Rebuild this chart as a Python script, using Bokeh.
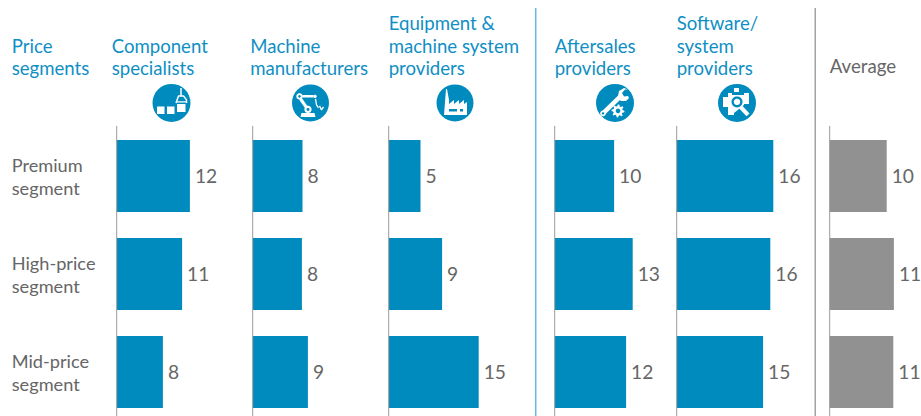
from bokeh.plotting import figure
from bokeh.models import Range1d
from bokeh.core.properties import value
from bokeh.embed import file_html
from bokeh.resources import INLINE
import math

segments = ["Premium\nsegment", "High-price\nsegment", "Mid-price\nsegment"]
groups = ["Component\nspecialists", "Machine\nmanufacturers", "Equipment &\nmachine system\nproviders",
          "Aftersales\nproviders", "Software/\nsystem\nproviders"]
component = [12.2, 10.9, 7.7]
machine = [8.3, 8.2, 9.2]
equipment = [5.3, 8.9, 15.0]
aftersales = [9.9, 13.0, 11.9]
software = [16.1, 15.6, 14.4]
average = [9.5, 10.7, 10.6]
comp_lab = ["12", "11", "8"]
mach_lab = ["8", "8", "9"]
equi_lab = ["5", "9", "15"]
afte_lab = ["10", "13", "12"]
soft_lab = ["16", "16", "15"]
aver_lab = ["10", "11", "11"]

BLUE = "#008BBF"
HEAD = "#0F8FC4"
GREY = "#919191"
TXT = "#666666"
FONT = value("Lato")
DX, DY = 0.8, 0.6
W, H = 921, 416
PX = 6.0  # pixels per unit

p = figure(width=W, height=H, output_backend="svg", toolbar_location=None,
           x_range=Range1d(DX, DX + W),
           y_range=Range1d((DY + H - 176) / 98, (DY - 176) / 98),
           x_axis_type=None, y_axis_type=None, min_border=0,
           outline_line_color=None, background_fill_color="white")
p.grid.visible = False
p.extra_y_ranges = {"page": Range1d(DY + H, DY)}

def txt(x, y, s, color, size, align="left"):
    p.text([x], [y], text=[s], text_color=color, text_font=FONT, text_font_size=f"{size}px",
           text_baseline="middle", text_align=align, y_range_name="page")

panels = [(117, component, comp_lab, BLUE), (253, machine, mach_lab, BLUE), (389, equipment, equi_lab, BLUE),
          (555, aftersales, afte_lab, BLUE), (677, software, soft_lab, BLUE), (830, average, aver_lab, GREY)]
pos = list(range(3))
for i, (left, vals, labs, col) in enumerate(panels):
    name = f"panel{i}"
    p.extra_x_ranges[name] = Range1d((DX - left) / PX, (DX + W - left) / PX)
    p.hbar(y=pos, left=0, right=vals, height=0.735, color=col, line_color=None, x_range_name=name)
    p.text(vals, pos, text=labs, x_offset=5, text_color=TXT, text_font=FONT, text_font_size="19.2px",
           text_baseline="middle", text_align="left", x_range_name=name)
    p.segment([0], [-0.51], [0], [2.449], line_color="#9A9A9A", line_width=1, x_range_name=name)

# dividers
p.segment([536], [8], [536], [418], line_color="#6FBADB", line_width=1.6, y_range_name="page")
p.segment([815.5], [8], [815.5], [418], line_color="#8C8C8C", line_width=1.2, y_range_name="page")

# headers
heads = [(12, 46, "Price"), (12, 68.5, "segments")]
for x, y, s in heads:
    txt(x, y, s, HEAD, 18.6)
hx = [112, 250.5, 389, 555, 677]
for x, g in zip(hx, groups):
    lines = g.split("\n")
    y0 = 68.5 - 22.5 * (len(lines) - 1)
    for k, s in enumerate(lines):
        txt(x, y0 + 22.5 * k, s, HEAD, 18.6)
txt(830, 66, "Average", TXT, 18.7)

for k, s in enumerate(segments):
    a, b = s.split("\n")
    yc = 176.5 + 98 * k
    txt(12, yc - 11.5, a, TXT, 18.2)
    txt(12, yc + 11.5, b, TXT, 18.2)

# icons
def disc(cx, cy, r, color="white"):
    t = [2 * math.pi * j / 32 for j in range(32)]
    p.patch([cx + r * math.cos(a) for a in t], [cy + r * math.sin(a) for a in t],
            color=color, line_color=None, y_range_name="page")
def box(x0, y0, x1, y1, color="white"):
    p.patch([x0, x1, x1, x0], [y0, y0, y1, y1], color=color, line_color=None, y_range_name="page")
def poly(xs, ys, cx, cy, color="white"):
    p.patch([cx + a for a in xs], [cy + b for b in ys], color=color, line_color=None, y_range_name="page")
def ln(xs, ys, cx, cy, w=1.5, color="white"):
    p.line([cx + a for a in xs], [cy + b for b in ys], line_color=color, line_width=w, y_range_name="page")
def gear(cx, cy, r, n=8):
    xs, ys = [], []
    for j in range(n * 4):
        a = 2 * math.pi * j / (n * 4)
        rr = r if j % 4 in (0, 1) else r * 0.72
        xs.append(cx + rr * math.cos(a)); ys.append(cy + rr * math.sin(a))
    p.patch(xs, ys, color="white", line_color=None, y_range_name="page")

# component specialists
cx, cy = 171.8, 103
disc(cx, cy, 19, BLUE)
box(cx - 14.5, cy + 3.5, cx - 7, cy + 11)
box(cx - 4.5, cy + 3.5, cx + 3, cy + 11)
box(cx + 5.5, cy + 1, cx + 14, cy + 9)
ln([9.5, 9.5], [-15, -7], cx, cy, 1.5)
ln([4.5, 7, 12, 15, 15], [0, -7, -7, -3, 0], cx, cy, 1.5)
ln([4.5, 15], [-1, -1], cx, cy, 1.2)

# machine manufacturers (robot arm)
cx, cy = 310.8, 103
disc(cx, cy, 18.5, BLUE)
disc(cx - 11, cy - 6.5, 3.2); disc(cx - 11, cy - 6.5, 1.3, BLUE)
box(cx - 8, cy - 8, cx + 3, cy - 5.5)
disc(cx + 4.5, cy - 6.5, 1.7)
ln([-10, -3], [-4, 6], cx, cy, 3.2)
disc(cx - 2.5, cy + 6.5, 3.6); disc(cx - 2.5, cy + 6.5, 1.5, BLUE)
poly([-9, 4, 5, -10], [10, 10, 14, 14], cx, cy)
ln([5, 6, 8], [-4, 2, 5], cx, cy, 1.3)
ln([9, 11, 13], [3, 7, 4], cx, cy, 1.3)

# equipment & machine system providers (factory)
cx, cy = 455.3, 103
disc(cx, cy, 18.5, BLUE)
poly([-11, -9, -8, -6, -6, -1, -1, 4, 4, 9, 9, 12, 12, -12],
     [12, -14, -14, -3, 1, -3, 1, -3, 1, -3, 1, -1, 12, 12], cx, cy)
box(cx - 6, cy + 6, cx + 2, cy + 8.5, BLUE)
box(cx + 5, cy + 6, cx + 8, cy + 8.5, BLUE)

# aftersales providers (wrench and gear)
cx, cy = 615.3, 103
disc(cx, cy, 19, BLUE)
ln([-11.5, 6], [10, -7], cx, cy, 4.5)
disc(cx - 12, cy + 10.5, 2.8); disc(cx - 12, cy + 10.5, 1.2, BLUE)
poly([3, 4, 9, 13, 10, 7, 9, 13, 14, 11, 6, 2], [-7, -12, -15, -13.5, -13.5, -10, -6.5, -7, -5, -2, -2, -5], cx, cy)
gear(cx + 3, cy + 8, 6.5, 8); disc(cx + 3, cy + 8, 2.3, BLUE)

# software / system providers (gear puzzle with magnifier)
cx, cy = 737.3, 103
disc(cx, cy, 19, BLUE)
poly([-14, -9, -9, -5, -5, 7, 7, 12, 12, 7, 7, -3, -3, -9, -9, -14],
     [-6, -6, -10, -10, -8, -8, -10, -10, 1, 1, 2, 10, 12, 12, 4, 4], cx, cy)
box(cx - 3, cy - 15, cx + 2, cy - 11)
disc(cx, cy - 1, 5.5, BLUE); disc(cx, cy - 1, 3.2)
ln([3.5, 11], [4, 12], cx, cy, 4.2)

open("out.html", "w").write(file_html(p, INLINE))
